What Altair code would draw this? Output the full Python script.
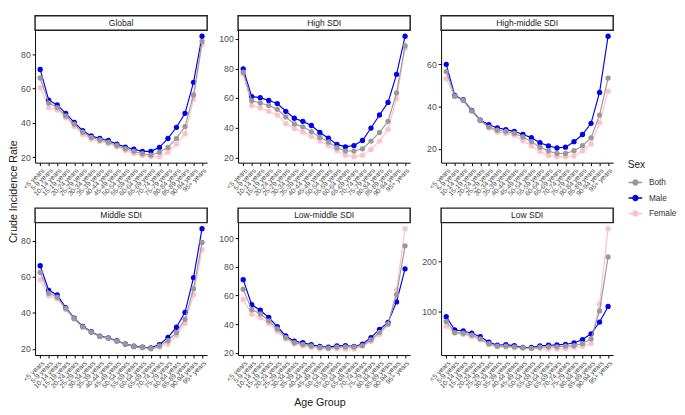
import altair as alt
import pandas as pd

FONT = "Liberation Sans"

ages = ["<5 years", "5-9 years", "10-14 years", "15-19 years", "20-24 years",
        "25-29 years", "30-34 years", "35-39 years", "40-44 years", "45-49 years",
        "50-54 years", "55-59 years", "60-64 years", "65-69 years", "70-74 years",
        "75-79 years", "80-84 years", "85-89 years", "90-94 years", "95+ years"]
regions = ["Global", "High SDI", "High-middle SDI", "Middle SDI", "Low-middle SDI", "Low SDI"]
sexes = ["Both", "Male", "Female"]
sex_colors = ["#999999", "#0000EE", "#FFC0CB"]

global_male = [71.2, 53.3, 50.5, 45.6, 40.4, 35.5, 32.5, 31.0, 29.8, 27.7, 26.0, 24.7, 23.5, 23.5, 25.8, 31.0, 37.5, 45.6, 63.7, 90.5]
global_both = [66.2, 51.6, 49.0, 44.1, 39.4, 34.6, 31.6, 30.1, 28.8, 26.9, 25.0, 23.5, 22.1, 21.3, 23.0, 25.8, 31.0, 37.9, 56.3, 87.5]
global_female = [60.6, 49.0, 47.5, 43.0, 38.0, 33.3, 30.5, 29.2, 27.9, 26.0, 24.0, 22.2, 21.1, 20.4, 20.4, 23.0, 27.7, 33.8, 53.8, 85.6]

high_male = [79.6, 61.0, 60.3, 58.4, 56.3, 51.1, 46.4, 44.3, 41.5, 36.8, 32.9, 28.8, 27.1, 28.0, 31.4, 39.8, 48.6, 57.1, 76.0, 101.7]
high_both = [77.5, 58.2, 56.7, 55.0, 52.4, 47.3, 42.6, 40.6, 37.4, 33.6, 30.4, 26.5, 24.3, 24.3, 25.8, 31.0, 36.8, 44.3, 63.5, 95.3]
high_female = [76.0, 55.0, 53.3, 51.1, 48.6, 42.8, 39.5, 37.2, 34.2, 31.0, 28.0, 24.6, 21.5, 20.5, 21.5, 25.4, 31.0, 38.9, 59.7, 93.6]

highmid_male = [60.0, 45.3, 43.3, 38.2, 33.6, 31.4, 29.9, 29.1, 28.3, 26.8, 25.3, 22.9, 21.4, 20.4, 20.8, 23.4, 26.8, 32.1, 46.7, 73.3]
highmid_both = [56.6, 45.0, 43.0, 38.0, 33.5, 30.3, 28.8, 28.2, 27.4, 25.6, 23.4, 20.8, 19.0, 17.8, 17.8, 19.1, 21.5, 25.2, 36.0, 53.5]
highmid_female = [53.2, 44.7, 42.8, 37.8, 33.2, 29.9, 27.9, 27.3, 26.4, 23.8, 21.3, 18.8, 16.9, 16.3, 16.3, 16.6, 19.0, 22.3, 32.4, 47.3]

middle_male = [66.2, 52.6, 50.0, 43.0, 37.2, 32.6, 29.6, 27.2, 26.2, 24.6, 22.8, 21.6, 21.1, 20.7, 22.5, 26.5, 32.1, 40.4, 59.6, 86.8]
middle_both = [62.5, 51.0, 48.8, 42.5, 36.9, 32.3, 29.4, 27.0, 26.0, 24.4, 22.8, 21.4, 20.9, 20.3, 21.7, 24.6, 29.1, 36.5, 53.5, 79.1]
middle_female = [58.4, 49.6, 47.7, 42.0, 36.6, 32.0, 29.2, 26.8, 25.8, 24.2, 22.6, 21.2, 20.6, 20.0, 21.1, 22.8, 27.4, 34.2, 50.2, 75.1]

lowmid_male = [71.1, 53.6, 49.8, 44.7, 38.4, 31.8, 28.2, 27.1, 25.8, 24.5, 24.0, 24.9, 25.1, 24.5, 26.2, 30.7, 36.4, 41.3, 55.6, 78.7]
lowmid_both = [64.4, 50.2, 47.3, 42.4, 36.7, 30.7, 27.1, 26.0, 24.9, 23.8, 23.3, 24.0, 24.2, 24.2, 25.1, 29.1, 34.4, 40.2, 60.7, 94.7]
lowmid_female = [57.3, 46.9, 44.7, 40.7, 35.1, 29.6, 26.2, 24.7, 23.8, 22.9, 23.0, 22.9, 22.7, 22.7, 24.9, 28.0, 32.9, 39.6, 64.0, 106.7]

low_male = [89.2, 62.2, 60.3, 55.8, 48.8, 37.9, 31.5, 32.7, 30.8, 27.0, 27.0, 30.2, 31.5, 32.1, 33.4, 36.0, 43.0, 54.6, 78.3, 109.7]
low_both = [79.6, 57.0, 55.8, 52.0, 44.2, 34.6, 29.6, 29.6, 28.3, 26.4, 25.0, 27.7, 28.3, 28.3, 29.6, 30.8, 34.6, 44.2, 100.7, 209.6]
low_female = [70.0, 55.8, 53.3, 48.8, 42.3, 32.7, 28.3, 27.7, 26.4, 25.8, 25.0, 25.0, 23.8, 23.8, 25.0, 27.0, 29.6, 34.6, 114.8, 266.7]

series = {
    "Global": {"Both": global_both, "Male": global_male, "Female": global_female},
    "High SDI": {"Both": high_both, "Male": high_male, "Female": high_female},
    "High-middle SDI": {"Both": highmid_both, "Male": highmid_male, "Female": highmid_female},
    "Middle SDI": {"Both": middle_both, "Male": middle_male, "Female": middle_female},
    "Low-middle SDI": {"Both": lowmid_both, "Male": lowmid_male, "Female": lowmid_female},
    "Low SDI": {"Both": low_both, "Male": low_male, "Female": low_female},
}

rows = []
for reg in regions:
    for sex in sexes:
        for a, v in zip(ages, series[reg][sex]):
            rows.append({"region": reg, "sex": sex, "age": a, "value": v})
df = pd.DataFrame(rows)

PW, PH, SH = 178, 137, 15
XEXT, YEXT, GAP, TW = 34, 14, 10, 11

legend_path = "M-1,0H1M-0.36,0A0.36,0.36,0,1,1,0.36,0A0.36,0.36,0,1,1,-0.36,0Z"


def panel(reg):
    d = df[df.region == reg]
    lo, hi = float(d.value.min()), float(d.value.max())
    pad = 0.05 * (hi - lo)
    dom = [lo - pad, hi + pad]
    x = alt.X("age:N", sort=ages,
              scale=alt.Scale(type="point", padding=0.6),
              axis=alt.Axis(title=None, labelAngle=315, labelAlign="right",
                            labelBaseline="top", labelFontSize=7, labelPadding=1,
                            labelOverlap=False, minExtent=XEXT, maxExtent=XEXT))
    y = alt.Y("value:Q", scale=alt.Scale(domain=dom, nice=False, zero=False),
              axis=alt.Axis(title=None, tickCount=3, labelFontSize=9,
                            minExtent=YEXT, maxExtent=YEXT))
    color = alt.Color("sex:N", scale=alt.Scale(domain=sexes, range=sex_colors),
                      legend=alt.Legend(
                          title="Sex", orient="none", legendX=640, legendY=150,
                          titleFontSize=10.5, titleFontWeight="normal", titleColor="#1A1A1A",
                          titlePadding=4, labelFontSize=8.5, labelColor="#333333",
                          labelOffset=6,
                          symbolType=legend_path, symbolSize=200, symbolStrokeWidth=1.5,
                          rowPadding=2))
    layers = []
    for s in ["Female", "Male", "Both"]:
        layers.append(
            alt.Chart(d).transform_filter(alt.datum.sex == s)
            .mark_line(strokeWidth=1.2,
                       point=alt.OverlayMarkDef(filled=True, size=30, opacity=1))
            .encode(x=x, y=y, color=color)
        )
    plot = alt.layer(*layers).properties(width=PW, height=PH)
    strip = (alt.Chart(pd.DataFrame({"t": [reg]}))
             .mark_text(fontSize=8.8, color="#1A1A1A", font=FONT)
             .encode(text="t:N")
             .properties(width=PW, height=SH,
                         view=alt.ViewBackground(stroke="#222222", strokeWidth=1.5, fill="white")))
    return alt.vconcat(strip, plot, spacing=0, bounds="flush")


grid = alt.concat(*[panel(r) for r in regions], columns=3, spacing=GAP).properties(
    title=alt.TitleParams("Age Group", orient="bottom", anchor="middle", fontSize=11,
                          fontWeight="normal", font=FONT, color="#1A1A1A", dx=3, offset=8)
)

ytitle = (alt.Chart(pd.DataFrame({"t": ["Crude Incidence Rate"]}))
          .mark_text(angle=270, fontSize=11, font=FONT, color="#1A1A1A", dx=9)
          .encode(text="t:N")
          .properties(width=TW, height=2 * (SH + PH + XEXT) + GAP))

chart = (alt.hconcat(ytitle, grid, spacing=0)
         .properties(padding=0)
         .configure(font=FONT)
         .configure_view(stroke="transparent")
         .configure_axis(domainColor="#000000", domainWidth=1, tickColor="#000000",
                         tickWidth=1, tickSize=3, labelColor="#4D4D4D", grid=False,
                         labelFont=FONT))

chart.save("out.html", embed_options={"renderer": "svg", "actions": False})
